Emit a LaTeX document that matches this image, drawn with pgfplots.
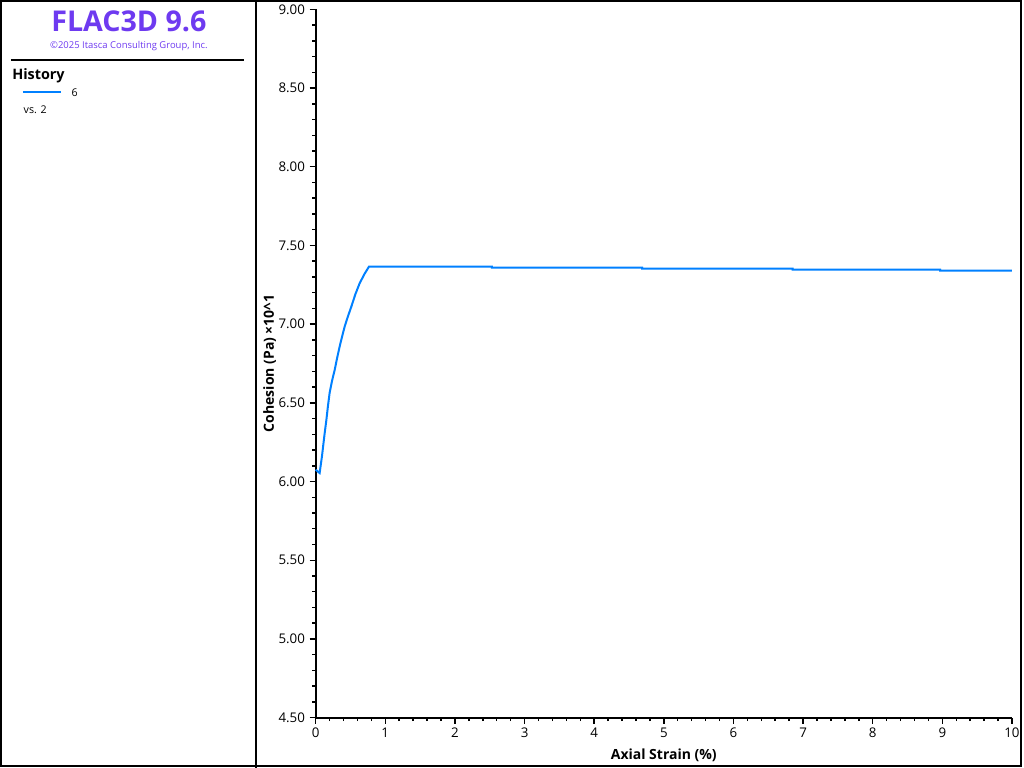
\documentclass[border=0pt]{standalone}
\usepackage{fontspec}
\setmainfont{Open Sans}
\usepackage{pgfplots}
\pgfplotsset{compat=1.18}
\definecolor{flacpurple}{RGB}{110,58,240}
\definecolor{histblue}{RGB}{0,128,255}
\pgfplotstableread{
x y
0.000 6.075
0.057 6.054
0.090 6.159
0.110 6.235
0.130 6.310
0.154 6.392
0.175 6.475
0.200 6.562
0.235 6.640
0.273 6.709
0.310 6.789
0.344 6.857
0.380 6.922
0.416 6.984
0.460 7.045
0.512 7.111
0.570 7.190
0.631 7.259
0.700 7.318
0.765 7.365
2.530 7.365
2.530 7.359
4.690 7.359
4.690 7.352
6.850 7.352
6.850 7.346
8.970 7.346
8.970 7.340
10.00 7.340
}\cohesion
\begin{document}
\begin{tikzpicture}
\begin{scope}[x=0.75pt,y=-0.75pt]
\path[use as bounding box] (0,0) rectangle (1024,768);
\draw[black,line width=1.5pt] (0.75,0.75) rectangle (1022.5,766.5);
\draw[black,line width=1.5pt] (256,0) -- (256,768);
\node[font=\bfseries\fontsize{21.5}{24}\selectfont,text=flacpurple,inner sep=0pt] at (129,21) {FLAC3D 9.6};
\node[font=\fontsize{7.1}{8.5}\selectfont,text=flacpurple,inner sep=0pt] at (129,45.5) {©2025 Itasca Consulting Group, Inc.};
\draw[black,line width=1.5pt] (11,60) -- (244,60);
\node[font=\bfseries\fontsize{10.8}{13}\selectfont,anchor=west,inner sep=0pt] at (12,75) {History};
\draw[histblue,line width=1.5pt] (23,92) -- (61,92);
\node[font=\fontsize{8}{9.5}\selectfont,anchor=west,inner sep=0pt] at (71.5,92.5) {6};
\node[font=\fontsize{8}{9.5}\selectfont,anchor=west,inner sep=0pt] at (23.5,109.5) {vs. 2};
\end{scope}
\begin{axis}[
  at={(237pt,-538.5pt)}, anchor=south west,
  scale only axis, width=522.75pt, height=531.75pt,
  xmin=0, xmax=10, ymin=4.5, ymax=9.0,
  axis x line*=bottom, axis y line*=left,
  axis line style={line width=1.5pt,-},
  tick align=outside,
  major tick length=4.5pt, minor tick length=2.6pt,
  every tick/.style={black,line width=1.1pt},
  xtick={0,1,...,10}, minor x tick num=4,
  ytick={4.5,5.0,...,9.0}, minor y tick num=4,
  yticklabel style={/pgf/number format/.cd,fixed,fixed zerofill,precision=2},
  /pgf/number format/assume math mode=true,
  tick label style={font=\fontsize{10}{12}\selectfont},
  xticklabel style={yshift=0pt},
  xlabel={\textbf{Axial Strain (\%)}},
  ylabel={\textbf{Cohesion (Pa) ×10\^{}1}},
  label style={font=\fontsize{10.5}{12.5}\selectfont},
  xlabel style={yshift=-1.5pt},
  ylabel style={yshift=-5pt},
  clip=false,
]
\addplot[histblue,line width=1.5pt] table {\cohesion};
\end{axis}
\end{tikzpicture}
\end{document}
